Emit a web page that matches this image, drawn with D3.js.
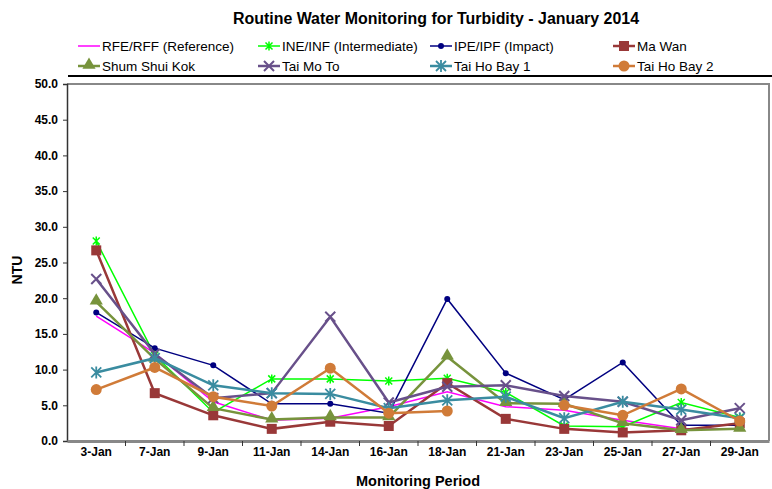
<!DOCTYPE html>
<html>
<head>
<meta charset="utf-8">
<script src="https://cdn.jsdelivr.net/npm/d3@7"></script>
<style>
body { margin: 0; background: #fff; }
text { font-family: "Liberation Sans", Arial, sans-serif; }
</style>
</head>
<body>
<div id="chart"></div>
<script>
// data (NTU)
var dates = ["3-Jan", "7-Jan", "9-Jan", "11-Jan", "14-Jan", "16-Jan", "18-Jan", "21-Jan", "23-Jan", "25-Jan", "27-Jan", "29-Jan"];
var rfe  = [17.5, 12.3, 5.5, 2.9, 3.2, 4.8, 6.9, 4.8, 4.3, 2.9, 1.7, 1.7];
var ine  = [28.0, 12.0, 4.0, 8.7, 8.7, 8.4, 8.8, 6.8, 2.1, 2.0, 5.4, 3.3];
var ipe  = [18.0, 13.0, 10.6, 5.2, 5.2, 3.9, 19.9, 9.5, 5.8, 11.0, 2.2, 2.2];
var maWan = [26.7, 6.7, 3.6, 1.7, 2.7, 2.1, 8.1, 3.1, 1.7, 1.2, 1.5, 2.5];
var shumShuiKok = [19.5, 11.5, 4.6, 3.0, 3.3, 3.3, 11.8, 5.3, 5.2, 2.5, 1.5, 1.7];
var taiMoTo = [22.7, 12.2, 6.0, 6.7, 17.4, 5.4, 7.6, 7.8, 6.3, 5.5, 2.9, 4.6];
var taiHoBay1 = [9.6, 11.6, 7.8, 6.7, 6.6, 4.6, 5.7, 6.2, 3.2, 5.5, 4.4, 3.2];
var taiHoBay2 = [7.2, 10.3, 6.2, 4.9, 10.2, 3.9, 4.2, null, 5.0, 3.6, 7.3, 2.8];
var yTicks = [0, 5, 10, 15, 20, 25, 30, 35, 40, 45, 50];

var series = [
    {name: "RFE/RFF (Reference)", values: rfe, color: "#ff00ff", width: 1.5, marker: "none"},
    {name: "INE/INF (Intermediate)", values: ine, color: "#00ff00", width: 1.5, marker: "star"},
    {name: "IPE/IPF (Impact)", values: ipe, color: "#000080", width: 1.5, marker: "dot"},
    {name: "Ma Wan", values: maWan, color: "#993838", width: 2.5, marker: "square"},
    {name: "Shum Shui Kok", values: shumShuiKok, color: "#77933c", width: 2.5, marker: "triangle"},
    {name: "Tai Mo To", values: taiMoTo, color: "#68508a", width: 2.5, marker: "x"},
    {name: "Tai Ho Bay 1", values: taiHoBay1, color: "#3a8ca0", width: 2.5, marker: "asterisk"},
    {name: "Tai Ho Bay 2", values: taiHoBay2, color: "#d07b38", width: 2.5, marker: "circle"}
];

var width = 772, height = 489;
var plotLeft = 67, plotRight = 769, plotTop = 84, plotBottom = 441;

var svg = d3.select("#chart").append("svg")
    .attr("width", width)
    .attr("height", height);

var x = d3.scaleBand().domain(dates).range([plotLeft, plotRight]);
var y = d3.scaleLinear().domain([0, 50]).range([plotBottom, plotTop]);

function cx(d) { return x(d) + x.bandwidth() / 2; }

// title
svg.append("text")
    .attr("x", 436).attr("y", 24)
    .attr("text-anchor", "middle")
    .attr("font-size", 16).attr("font-weight", "bold")
    .attr("textLength", 406).attr("lengthAdjust", "spacingAndGlyphs")
    .text("Routine Water Monitoring for Turbidity - January 2014");

// black rule above plot
svg.append("line")
    .attr("x1", 68).attr("x2", 772).attr("y1", 76).attr("y2", 76)
    .attr("stroke", "#000").attr("stroke-width", 2);

// plot frame
svg.append("path")
    .attr("d", "M" + plotLeft + "," + plotTop + "H" + plotRight + "V" + plotBottom)
    .attr("fill", "none").attr("stroke", "#888").attr("stroke-width", 2);

// markers
function drawMarker(g, type, color, px, py) {
    if (type === "square") {
        g.append("rect").attr("x", px - 5).attr("y", py - 5).attr("width", 10).attr("height", 10).attr("fill", color);
    } else if (type === "triangle") {
        g.append("path").attr("d", d3.symbol().type(d3.symbolTriangle).size(75)()).attr("transform", "translate(" + px + "," + (py - 1) + ")").attr("fill", color);
    } else if (type === "circle") {
        g.append("circle").attr("cx", px).attr("cy", py).attr("r", 5.5).attr("fill", color);
    } else if (type === "dot") {
        g.append("circle").attr("cx", px).attr("cy", py).attr("r", 3).attr("fill", color);
    } else if (type === "x") {
        g.append("path").attr("d", "M-5,-5L5,5M-5,5L5,-5").attr("transform", "translate(" + px + "," + py + ")")
            .attr("stroke", color).attr("stroke-width", 2).attr("fill", "none");
    } else if (type === "asterisk") {
        g.append("path").attr("d", "M-5,-5L5,5M-5,5L5,-5M0,-6V6").attr("transform", "translate(" + px + "," + py + ")")
            .attr("stroke", color).attr("stroke-width", 1.8).attr("fill", "none");
    } else if (type === "star") {
        g.append("path").attr("d", "M-3.5,-3.5L3.5,3.5M-3.5,3.5L3.5,-3.5M0,-4.5V4.5").attr("transform", "translate(" + px + "," + py + ")")
            .attr("stroke", color).attr("stroke-width", 1.5).attr("fill", "none");
    }
}

var line = d3.line()
    .defined(function (d) { return d.v !== null; })
    .x(function (d) { return cx(d.date); })
    .y(function (d) { return y(d.v); });

var plot = svg.append("g");
series.forEach(function (s) {
    var pts = dates.map(function (d, i) { return {date: d, v: s.values[i]}; });
    plot.append("path")
        .attr("d", line(pts))
        .attr("fill", "none")
        .attr("stroke", s.color)
        .attr("stroke-width", s.width);
    pts.forEach(function (p) {
        if (p.v !== null) drawMarker(plot, s.marker, s.color, cx(p.date), y(p.v));
    });
});

// y axis
var yAxis = svg.append("g")
    .attr("transform", "translate(" + plotLeft + ",0)")
    .call(d3.axisLeft(y).tickValues(yTicks).tickSize(4).tickFormat(d3.format(".1f")));
yAxis.select(".domain").attr("stroke", "#333").attr("stroke-width", 1.5);
yAxis.selectAll(".tick line").attr("stroke", "#333");
yAxis.selectAll("text").attr("font-size", 12).attr("font-weight", "bold")
    .attr("font-family", "Liberation Sans, Arial, sans-serif").attr("fill", "#000").attr("dx", -2);

// x axis
var xAxis = svg.append("g")
    .attr("transform", "translate(0," + plotBottom + ")")
    .call(d3.axisBottom(x).tickSize(0));
xAxis.select(".domain").attr("stroke", "#888").attr("stroke-width", 3);
xAxis.selectAll("text").attr("font-size", 12).attr("font-weight", "bold")
    .attr("font-family", "Liberation Sans, Arial, sans-serif").attr("fill", "#000").attr("dy", 12);
xAxis.selectAll(".bound")
    .data(dates.slice(1))
    .enter().append("line")
    .attr("x1", function (d) { return x(d); })
    .attr("x2", function (d) { return x(d); })
    .attr("y1", 0).attr("y2", 5)
    .attr("stroke", "#333");

// axis titles
svg.append("text")
    .attr("transform", "translate(22,270) rotate(-90)")
    .attr("text-anchor", "middle")
    .attr("font-size", 14).attr("font-weight", "bold")
    .text("NTU");
svg.append("text")
    .attr("x", 418).attr("y", 486)
    .attr("text-anchor", "middle")
    .attr("font-size", 14.5).attr("font-weight", "bold")
    .text("Monitoring Period");

// legend
var colX = [78, 258, 430, 613];
var rowY = [46, 66];
series.forEach(function (s, i) {
    var lx = colX[i % 4], ly = rowY[Math.floor(i / 4)];
    var g = svg.append("g");
    g.append("line").attr("x1", lx).attr("x2", lx + 22).attr("y1", ly).attr("y2", ly)
        .attr("stroke", s.color).attr("stroke-width", s.width);
    drawMarker(g, s.marker, s.color, lx + 11, ly);
    g.append("text").attr("x", lx + 24).attr("y", ly + 5)
        .attr("font-size", 13.5).text(s.name);
});
</script>
</body>
</html>
